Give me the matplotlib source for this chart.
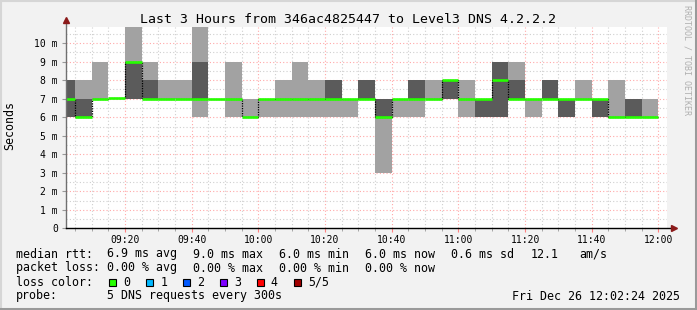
import matplotlib
matplotlib.use('Agg')
import matplotlib.pyplot as plt
from matplotlib.patches import Rectangle
from matplotlib.lines import Line2D
import numpy as np

W, H = 697, 310

# 5 minute bins, minutes after 09:00, and the 5 sorted DNS timings (ms) per bin
bin_start = list(range(0, 180, 5))
ping1 = [6, 6, 7, 7, 7, 7, 7, 7, 6, 7, 6, 6, 6, 6, 6, 6, 6, 6,
         7, 3, 6, 6, 7, 7, 6, 6, 6, 7, 6, 7, 6, 7, 6, 6, 6, 6]
ping2 = [6, 6, 7, 7, 7, 7, 7, 7, 7, 7, 7, 6, 7, 7, 7, 7, 7, 7,
         7, 6, 7, 7, 7, 7, 7, 6, 6, 7, 7, 7, 6, 7, 6, 6, 6, 6]
median = [7, 6, 7, 7.05, 9, 7, 7, 7, 7, 7, 7, 6, 7, 7, 7, 7, 7, 7,
          7, 6, 7, 7, 7, 8, 7, 7, 8, 7, 7, 7, 7, 7, 7, 6, 6, 6]
ping4 = [8, 7, 7, 7, 9, 8, 7, 7, 9, 7, 7, 6, 7, 7, 7, 7, 8, 7,
         8, 7, 7, 8, 7, 8, 7, 7, 9, 8, 7, 8, 7, 7, 7, 6, 7, 6]
ping5 = [8, 8, 9, 7, 11, 9, 8, 8, 11, 7, 9, 7, 7, 8, 9, 8, 8, 7,
         8, 7, 7, 8, 8, 8, 8, 7, 9, 9, 7, 8, 7, 8, 7, 8, 7, 7]

x_ticks = [20, 40, 60, 80, 100, 120, 140, 160, 180]
x_labels = ['09:20', '09:40', '10:00', '10:20', '10:40', '11:00', '11:20', '11:40', '12:00']
y_ticks = list(range(0, 11))
y_labels = ['0'] + ['%d m' % v for v in range(1, 11)]

loss_names = ['0', '1', '2', '3', '4', '5/5']
loss_colors = ['#26ff00', '#00b8ff', '#0059ff', '#7e00ff', '#ff0000', '#a10000']

title = 'Last 3 Hours from 346ac4825447 to Level3 DNS 4.2.2.2'
rtt_stats = ['6.9 ms avg', '9.0 ms max', '6.0 ms min', '6.0 ms now', '0.6 ms sd', '12.1', 'am/s']
loss_stats = ['0.00 % avg', '0.00 % max', '0.00 % min', '0.00 % now']

MONO = 'DejaVu Sans Mono'
BG = '#f2f2f2'

fig = plt.figure(figsize=(W / 100, H / 100), dpi=100, facecolor=BG)
ax = fig.add_axes([66.2 / W, 81.7 / H, 600.3 / W, 201 / H])
ax.set_facecolor('white')

bs = np.array(bin_start, dtype=float)
p1, p2, p3, p4, p5 = [np.array(v, dtype=float) for v in (ping1, ping2, median, ping4, ping5)]

# smoke
ax.bar(bs, p5 - p1, bottom=p1, width=5, align='edge', color='#a2a2a2', lw=0, zorder=2)
ax.bar(bs, p4 - p2, bottom=p2, width=5, align='edge', color='#5b5b5b', lw=0, zorder=3)

# median: dotted black steps + green (loss 0) level segments
edges = np.append(bs, bs[-1] + 5)
ax.step(edges, np.append(p3, p3[-1]), where='post', color='black', lw=0.9,
        ls=(0, (1, 1)), zorder=4)
ax.hlines(p3, bs, bs + 5, color=loss_colors[0], lw=1.9, zorder=5)

ax.set_xlim(2.4, 182.4)
ax.set_ylim(0, 10.86)

# grid
for v in np.arange(0.5, 10.9, 0.5):
    major = abs(v - round(v)) < 1e-6
    ax.axhline(v, color='#ffa8a8' if major else '#cfcfcf', lw=0.8, ls=(0, (1, 2)), zorder=1)
for m in range(5, 183, 5):
    major = m % 20 == 0
    ax.axvline(m, color='#ffa8a8' if major else '#cfcfcf', lw=0.8, ls=(0, (1, 2)), zorder=1)

for s in ax.spines.values():
    s.set_visible(False)

ax.set_xticks(x_ticks)
ax.set_xticklabels(x_labels, family=MONO, fontsize=7)
ax.set_xticks(range(5, 183, 5), minor=True)
ax.set_yticks(y_ticks)
ax.set_yticklabels(y_labels, family=MONO, fontsize=7)
ax.tick_params(axis='x', which='major', length=3, color='#ff8080', pad=2)
ax.tick_params(axis='x', which='minor', length=2, color='#999999')
ax.tick_params(axis='y', which='major', length=3, color='#999999', pad=3)

# axis lines with arrows
ax.add_line(Line2D([0, 0], [0, 1.03], transform=ax.transAxes, color='#707070', lw=1,
                   clip_on=False, zorder=6))
ax.add_line(Line2D([0, 1.01], [0, 0], transform=ax.transAxes, color='black', lw=1,
                   clip_on=False, zorder=6))
ax.plot([0], [1.035], marker='^', ms=5, color='#8b1a1a', transform=ax.transAxes, clip_on=False, zorder=7)
ax.plot([1.012], [0], marker='>', ms=5, color='#8b1a1a', transform=ax.transAxes, clip_on=False, zorder=7)


def ftext(x, y, s, **kw):
    kw.setdefault('family', MONO)
    kw.setdefault('fontsize', 8.4)
    kw.setdefault('va', 'center')
    kw.setdefault('ha', 'left')
    fig.text(x / W, 1 - y / H, s, **kw)


ftext(348, 19.5, title, ha='center', fontsize=9.5)
ftext(10, 126, 'Seconds', ha='center', rotation=90)
ftext(687, 60, 'RRDTOOL / TOBI OETIKER', ha='center', rotation=270, fontsize=6, color='#b0b0b0')

ftext(16, 254, 'median rtt:')
for i, s in enumerate(rtt_stats[:5]):
    ftext(107.3 + 86 * i, 254, s)
ftext(530.7, 254, rtt_stats[5])
ftext(579.3, 254, rtt_stats[6])

ftext(16, 268, 'packet loss:')
for i, s in enumerate(loss_stats):
    ftext(107.3 + 86 * i, 268, s)

ftext(16, 282, 'loss color:')
for i, (name, c) in enumerate(zip(loss_names, loss_colors)):
    x0 = 109 + 36.9 * i
    fig.add_artist(Rectangle((x0 / W, 1 - 286 / H), 7 / W, 7 / H, transform=fig.transFigure,
                             fc=c, ec='black', lw=0.8))
    ftext(x0 + 14.3, 282, name)

ftext(16, 296, 'probe:')
ftext(107.3, 296, '5 DNS requests every 300s')
ftext(680, 296, 'Fri Dec 26 12:02:24 2025', ha='right')

# frame
fig.add_artist(Line2D([0, 1], [1 - 1 / H, 1 - 1 / H], transform=fig.transFigure, color='#d6d6d6', lw=1.5))
fig.add_artist(Line2D([1 / W, 1 / W], [0, 1], transform=fig.transFigure, color='#d6d6d6', lw=1.5))
fig.add_artist(Line2D([0, 1], [1.5 / H, 1.5 / H], transform=fig.transFigure, color='#9a9a9a', lw=2.2))
fig.add_artist(Line2D([1 - 1.5 / W, 1 - 1.5 / W], [0, 1], transform=fig.transFigure, color='#9a9a9a', lw=2.2))

fig.savefig('out.png', dpi=100, facecolor=BG)
